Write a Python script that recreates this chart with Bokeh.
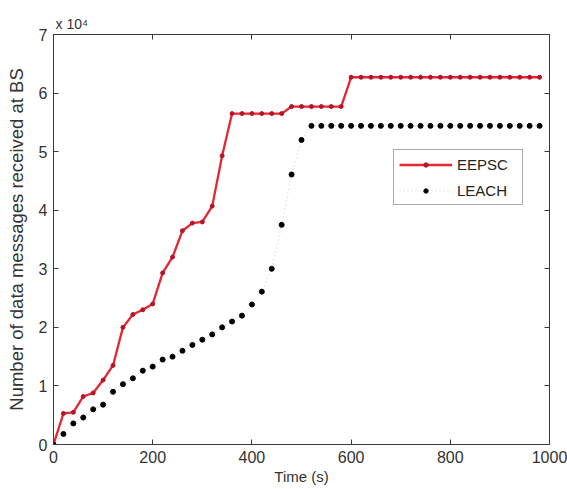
from bokeh.plotting import figure
from bokeh.models import (LinearAxis, FixedTicker, CustomJSTickFormatter,
                          Legend, Range1d)
from bokeh.embed import file_html
from bokeh.resources import INLINE

# ---------------- data ----------------
time_s = [0, 20, 40, 60, 80, 100, 120, 140, 160, 180,
          200, 220, 240, 260, 280, 300, 320, 340, 360, 380,
          400, 420, 440, 460, 480, 500, 520, 540, 560, 580,
          600, 620, 640, 660, 680, 700, 720, 740, 760, 780,
          800, 820, 840, 860, 880, 900, 920, 940, 960, 980]

eepsc = [0, 5300, 5500, 8200, 8800, 11000, 13500, 20000, 22200, 23000,
         24000, 29300, 32000, 36500, 37800, 38000, 40700, 49300, 56500, 56500,
         56500, 56500, 56500, 56500, 57700, 57700, 57700, 57700, 57700, 57700,
         62700, 62700, 62700, 62700, 62700, 62700, 62700, 62700, 62700, 62700,
         62700, 62700, 62700, 62700, 62700, 62700, 62700, 62700, 62700, 62700]

leach = [0, 1800, 3600, 4600, 6000, 6800, 9000, 10300, 11300, 12600,
         13300, 14500, 15000, 16000, 17000, 17900, 18800, 20000, 21000, 22000,
         23900, 26100, 30000, 37500, 46100, 52000, 54400, 54400, 54400, 54400,
         54400, 54400, 54400, 54400, 54400, 54400, 54400, 54400, 54400, 54400,
         54400, 54400, 54400, 54400, 54400, 54400, 54400, 54400, 54400, 54400]

x_ticks = [0, 200, 400, 600, 800, 1000]
y_ticks = [0, 10000, 20000, 30000, 40000, 50000, 60000, 70000]
y_scale_text = "x 10\u2074"
x_label = "Time (s)"
y_label = "Number of data messages received at BS"

FONT = "Liberation Sans"
AXC = "#3a3a3a"

p = figure(width=567, height=489, output_backend="svg", toolbar_location=None,
           x_range=Range1d(0, 1000), y_range=Range1d(0, 70000),
           min_border_left=53, min_border_right=18, min_border_top=34,
           min_border_bottom=45)
p.grid.visible = False
p.outline_line_color = AXC
p.outline_line_width = 1
p.background_fill_color = "white"
p.border_fill_color = "white"

# "x 10^4" scale note via title
p.title.text = y_scale_text
p.title.align = "left"
p.title.offset = 2
p.title.standoff = 5
p.title.text_font = FONT
p.title.text_font_size = "14px"
p.title.text_font_style = "normal"
p.title.text_color = "#333333"

# main axes
xa = p.xaxis[0]
ya = p.yaxis[0]
xa.ticker = FixedTicker(ticks=x_ticks)
ya.ticker = FixedTicker(ticks=y_ticks)
ya.formatter = CustomJSTickFormatter(code="return (tick/10000).toFixed(0);")
for ax in (xa, ya):
    ax.major_tick_in = 5
    ax.major_tick_out = 0
    ax.minor_tick_line_color = None
    ax.axis_line_color = AXC
    ax.major_tick_line_color = AXC
    ax.major_label_text_font = FONT
    ax.major_label_text_font_size = "16px"
    ax.major_label_text_color = "#333333"
    ax.axis_label_text_font = FONT
    ax.axis_label_text_font_style = "normal"
    ax.axis_label_text_color = "#333333"
xa.axis_label = x_label
xa.axis_label_text_font_size = "15px"
xa.major_label_standoff = 6
xa.axis_label_standoff = 2
ya.axis_label = y_label
ya.axis_label_text_font_size = "18.5px"
ya.major_label_standoff = 6
ya.axis_label_standoff = 9

# top / right tick-only axes (box style)
for loc, tk in (("above", x_ticks), ("right", y_ticks)):
    ax = LinearAxis(ticker=FixedTicker(ticks=tk),
                    formatter=CustomJSTickFormatter(code="return '';"),
                    major_tick_in=5, major_tick_out=0,
                    minor_tick_line_color=None,
                    axis_line_color=AXC, major_tick_line_color=AXC,
                    major_label_text_font_size="0px", major_label_standoff=0)
    p.add_layout(ax, loc)

# series
r1 = p.line(time_s, eepsc, line_color="#e62630", line_width=2.3)
r1m = p.scatter(time_s, eepsc, marker="circle", size=4,
                fill_color="#b5142a", line_color="#b5142a")
r2 = p.line(time_s, leach, line_color="#c9c9c9", line_width=1, line_dash="1 3")
r2m = p.scatter(time_s, leach, marker="circle", size=5,
                fill_color="black", line_color="black")

legend = Legend(items=[("EEPSC", [r1, r1m]), ("LEACH", [r2, r2m])],
                location=(340, 239), orientation="vertical",
                glyph_width=53, glyph_height=11, label_standoff=5,
                label_width=60, label_height=18, padding=5, spacing=8, margin=0,
                label_text_font=FONT, label_text_font_size="15px",
                label_text_color="#222222",
                border_line_color="#555555", border_line_width=1,
                background_fill_color="white", background_fill_alpha=1)
p.add_layout(legend, "center")

open("out.html", "w").write(file_html(p, INLINE))
